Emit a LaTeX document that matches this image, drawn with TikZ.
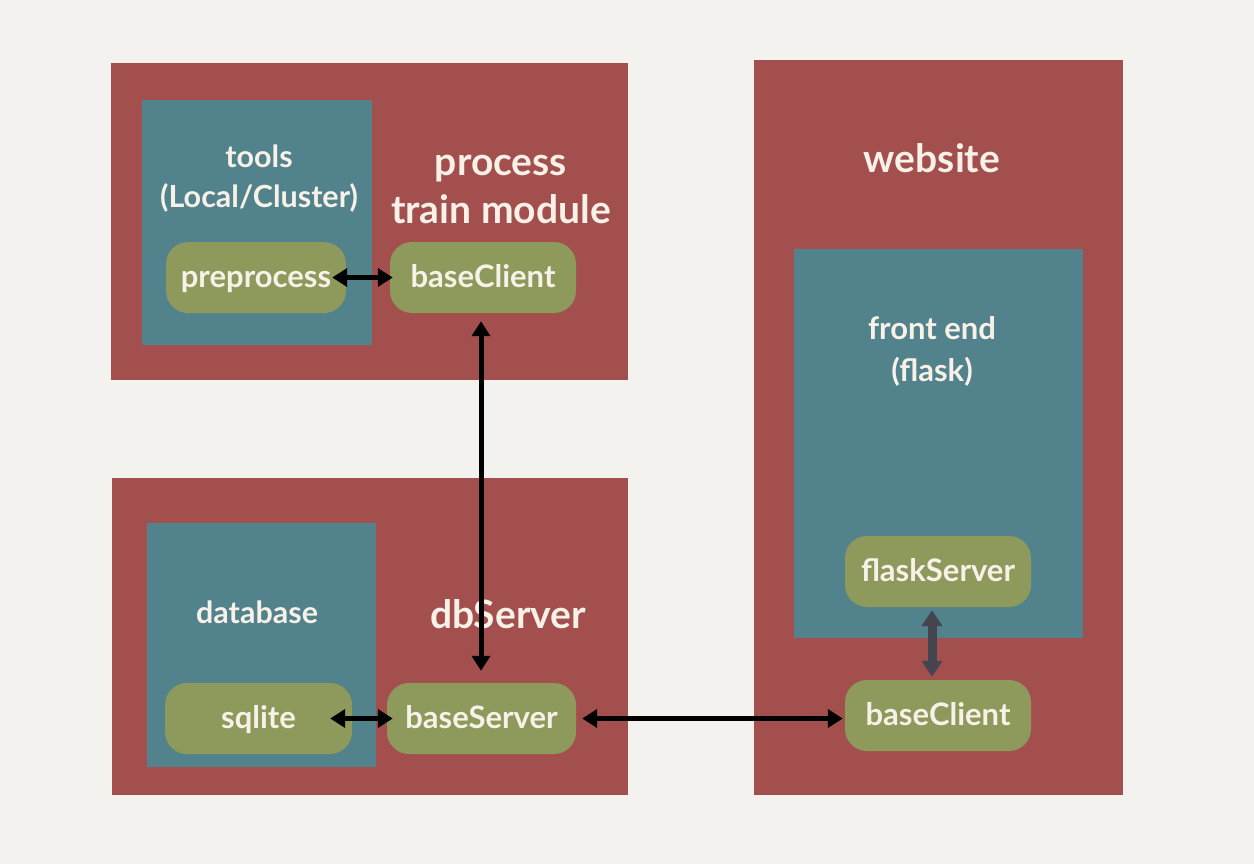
\documentclass[tikz,border=0pt]{standalone}
\usepackage{fontspec}
\setmainfont{Lato}
\usetikzlibrary{arrows.meta}
\definecolor{bgc}{HTML}{F3F2EF}
\definecolor{redc}{HTML}{A34F4D}
\definecolor{tealc}{HTML}{52828B}
\definecolor{olivec}{HTML}{8E9A5C}
\definecolor{txtc}{HTML}{F7F1E8}
\definecolor{grayarr}{HTML}{454550}
\tikzset{
  outer/.style={fill=redc, draw=none},
  inner/.style={fill=tealc, draw=none},
  pill/.style={fill=olivec, draw=none, rounded corners=22pt, minimum width=#1, minimum height=71pt, font=\fontsize{31}{32}\selectfont\bfseries, text=txtc, inner sep=0pt, text height=19pt, text depth=0pt},
  pill/.default=186pt,
  lbl/.style={text=txtc, font=\fontsize{30.5}{40}\selectfont\bfseries, align=center},
  flbl/.style={text=txtc, font=\fontsize{31}{42}\selectfont\bfseries, align=center},
  biglbl/.style={text=txtc, font=\fontsize{39}{48}\selectfont\bfseries, align=center},
  conn/.style={line width=5pt, {Triangle[length=15pt,width=18pt]}-{Triangle[length=15pt,width=18pt]}, black},
  gconn/.style={line width=9pt, {Triangle[length=16pt,width=20pt]}-{Triangle[length=16pt,width=20pt]}, grayarr},
}
\begin{document}
\begin{tikzpicture}[x=1pt,y=-1pt]
\fill[bgc] (0,0) rectangle (1254,864);
\useasboundingbox (0,0) rectangle (1254,864);
% outer boxes
\fill[outer] (111,63) rectangle (628,380);
\fill[outer] (112,478) rectangle (628,795);
\fill[outer] (754,60) rectangle (1123,795);
% inner boxes
\fill[inner] (142,100) rectangle (372,345);
\fill[inner] (147,523) rectangle (376,767);
\fill[inner] (794,249) rectangle (1083,638);
% labels
\node[lbl] (tools) at (259,179) {tools\\(Local/Cluster)};
\node[biglbl] (proc) at (501,189) {process\\train module};
\node[lbl] (db) at (257,612) {database};
\node[biglbl] (dbs) at (508,614) {dbServer};
\node[biglbl] (web) at (932,158) {website};
\node[flbl] (fe) at (932,351) {front end\\(flask)};
% pills
\node[pill=180pt] (pre) at (256,277.5) {preprocess};
\node[pill] (bc1) at (483,277.5) {baseClient};
\node[pill=187pt] (sq) at (258.5,718.5) {sqlite};
\node[pill=189pt] (bs) at (481.5,718.5) {baseServer};
\node[pill] (fs) at (938,571.5) {flaskServer};
\node[pill] (bc2) at (938,715.5) {baseClient};
\coordinate (vx) at (481,0);
\coordinate (gx) at (932,0);
% connectors
\draw[conn] ([xshift=-14pt]pre.east) -- ([xshift=3pt]bc1.west);
\draw[conn] ([yshift=-8pt]bc1.south -| vx) -- ([yshift=12pt]bs.north -| vx);
\draw[conn] ([xshift=-22pt]sq.east) -- ([xshift=6pt]bs.west);
\draw[conn] ([xshift=6pt]bs.east) -- ([xshift=-2pt]bc2.west |- bs.east);
\draw[gconn] ([yshift=-3pt]fs.south -| gx) -- ([yshift=3pt]bc2.north -| gx);
\end{tikzpicture}
\end{document}
